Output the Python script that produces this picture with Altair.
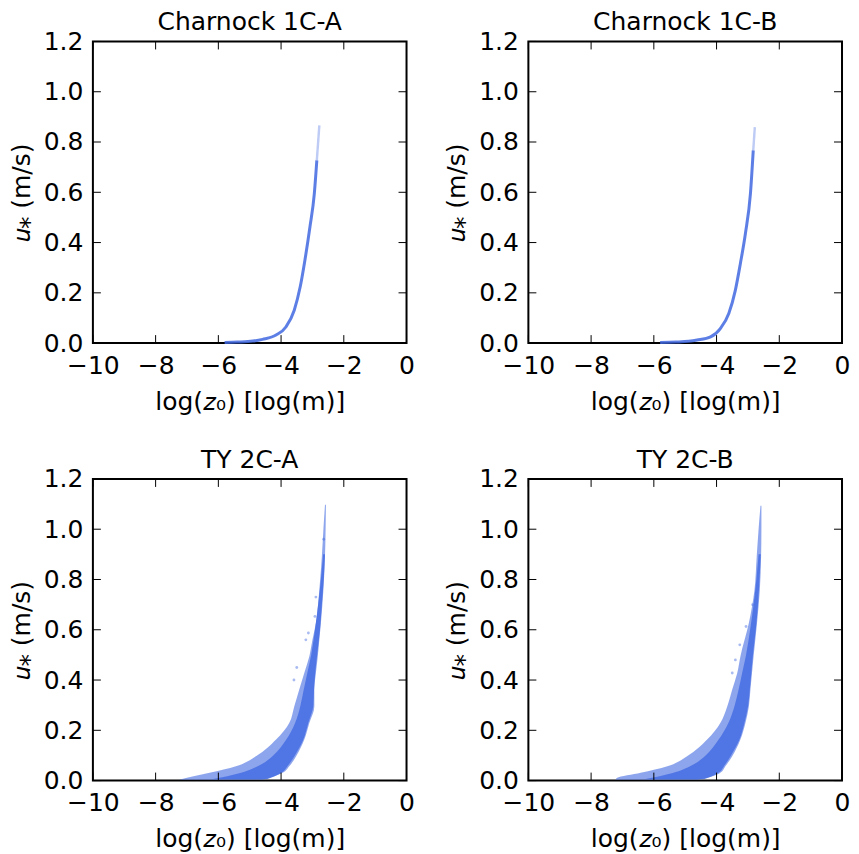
import altair as alt
import pandas as pd

FONT = "DejaVu Sans"
BLUE = "#4169E1"
W, H = 314, 302
TL = 8
FS = 25

x_ticks = [-10, -8, -6, -4, -2, 0]
y_ticks = [0.0, 0.2, 0.4, 0.6, 0.8, 1.0, 1.2]

titles = ["Charnock 1C-A", "Charnock 1C-B", "TY 2C-A", "TY 2C-B"]

# Charnock curves (log z0, u*)
chA_x = [-5.80, -5.40, -4.90, -4.59, -4.16, -3.84, -3.58, -3.39, -3.24, -3.08, -2.94, -2.86, -2.78]
chA_u = [0.002, 0.004, 0.008, 0.015, 0.032, 0.065, 0.131, 0.224, 0.330, 0.462, 0.595, 0.727, 0.866]
chB_x = [-5.80, -5.30, -4.89, -4.62, -4.19, -3.88, -3.61, -3.40, -3.24, -3.08, -2.92, -2.83, -2.78]
chB_u = [0.002, 0.004, 0.007, 0.012, 0.025, 0.058, 0.118, 0.211, 0.317, 0.436, 0.595, 0.767, 0.859]

# TY clouds: outer envelope and dense core (u*, left log z0, right log z0)
tyA_u = [0.003, 0.011, 0.031, 0.057, 0.097, 0.163, 0.229, 0.295, 0.362, 0.428, 0.494, 0.560, 0.627, 0.759, 0.891, 1.000, 1.097]
tyA_lo = [-7.25, -7.00, -6.28, -5.44, -4.80, -4.16, -3.74, -3.58, -3.42, -3.26, -3.10, -3.00, -2.89, -2.78, -2.70, -2.65, -2.60]
tyA_hi = [-4.60, -4.37, -3.95, -3.74, -3.52, -3.26, -3.10, -2.94, -2.94, -2.89, -2.83, -2.78, -2.73, -2.65, -2.60, -2.58, -2.57]
tyA_cu = [0.005, 0.030, 0.060, 0.100, 0.160, 0.230, 0.300, 0.360, 0.430, 0.500, 0.600, 0.700, 0.800, 0.900]
tyA_clo = [-6.20, -5.30, -4.70, -4.25, -3.85, -3.55, -3.38, -3.28, -3.16, -3.04, -2.92, -2.82, -2.73, -2.66]
tyA_chi = [-4.45, -4.00, -3.78, -3.56, -3.30, -3.13, -2.97, -2.95, -2.91, -2.85, -2.76, -2.70, -2.64, -2.60]
tyA_px = [-3.50, -3.59, -3.13, -2.92, -2.89, -3.21, -2.64]
tyA_pu = [0.450, 0.400, 0.587, 0.653, 0.730, 0.560, 0.960]

tyB_u = [0.003, 0.011, 0.031, 0.057, 0.097, 0.163, 0.229, 0.295, 0.362, 0.428, 0.494, 0.627, 0.759, 0.891, 1.000, 1.093]
tyB_lo = [-7.22, -7.17, -6.42, -5.57, -4.94, -4.30, -3.88, -3.66, -3.50, -3.34, -3.24, -2.97, -2.79, -2.72, -2.66, -2.60]
tyB_hi = [-4.60, -4.30, -3.88, -3.72, -3.50, -3.24, -3.08, -2.97, -2.92, -2.87, -2.82, -2.71, -2.62, -2.58, -2.57, -2.57]
tyB_cu = [0.005, 0.030, 0.060, 0.100, 0.160, 0.230, 0.300, 0.360, 0.430, 0.500, 0.600, 0.700, 0.800, 0.900]
tyB_clo = [-6.30, -5.40, -4.80, -4.35, -3.95, -3.62, -3.42, -3.30, -3.18, -3.06, -2.93, -2.82, -2.73, -2.66]
tyB_chi = [-4.40, -3.95, -3.75, -3.54, -3.28, -3.11, -2.99, -2.94, -2.89, -2.84, -2.75, -2.68, -2.63, -2.59]
tyB_px = [-3.40, -3.50, -3.26, -3.06, -2.85]
tyB_pu = [0.480, 0.428, 0.540, 0.613, 0.700]

xscale = alt.Scale(domain=[-10, 0], nice=False, zero=False)
yscale = alt.Scale(domain=[0, 1.2], nice=False, zero=False)

xaxis = alt.Axis(title="log(𝑧₀) [log(m)]", values=x_ticks, format="d", grid=False,
                 ticks=False, tickSize=0, domain=False, labelPadding=10,
                 titlePadding=11, labelFlush=False)
yaxis = alt.Axis(title="𝑢⁎ (m/s)", values=y_ticks, format=".1f", grid=False,
                 ticks=False, tickSize=0, domain=False, labelPadding=10,
                 titlePadding=9, labelFlush=False)


def X(f):
    return alt.X(f, type="quantitative", scale=xscale, axis=xaxis)


def Y(f):
    return alt.Y(f, type="quantitative", scale=yscale, axis=yaxis)


def tick_layers():
    xt = pd.DataFrame({"x": x_ticks})
    yt = pd.DataFrame({"u": y_ticks})
    r = dict(color="black", strokeWidth=1)
    return [
        alt.Chart(xt).mark_rule(**r).encode(x=X("x"), y=alt.value(H), y2=alt.value(H - TL)),
        alt.Chart(xt).mark_rule(**r).encode(x=X("x"), y=alt.value(0), y2=alt.value(TL)),
        alt.Chart(yt).mark_rule(**r).encode(y=Y("u"), x=alt.value(0), x2=alt.value(TL)),
        alt.Chart(yt).mark_rule(**r).encode(y=Y("u"), x=alt.value(W), x2=alt.value(W - TL)),
    ]


def ptitle(t):
    return alt.TitleParams(t, frame="group", anchor="middle", offset=-6)


def charnock(title, xs, us):
    df = pd.DataFrame({"x": xs, "u": us})
    base = alt.Chart(df)
    main = base.transform_filter("datum.u <= 0.78").mark_line(
        color=BLUE, strokeWidth=3, opacity=0.85, interpolate="monotone"
    ).encode(x=X("x"), y=Y("u"))
    tip = base.transform_filter("datum.u >= 0.72").mark_line(
        color=BLUE, strokeWidth=2.4, opacity=0.35, interpolate="monotone"
    ).encode(x=X("x"), y=Y("u"))
    return alt.layer(main, tip, *tick_layers()).properties(
        width=W, height=H, title=ptitle(title))


def ty(title, u, lo, hi, cu, clo, chi, px, pu):
    outer = alt.Chart(pd.DataFrame({"u": u, "lo": lo, "hi": hi})).mark_area(
        orient="horizontal", color=BLUE, opacity=0.6, interpolate="monotone"
    ).encode(y=Y("u"), x=X("lo"), x2="hi")
    core = alt.Chart(pd.DataFrame({"u": cu, "lo": clo, "hi": chi})).mark_area(
        orient="horizontal", color=BLUE, opacity=0.8, interpolate="monotone"
    ).encode(y=Y("u"), x=X("lo"), x2="hi")
    pts = alt.Chart(pd.DataFrame({"x": px, "u": pu})).mark_circle(
        color=BLUE, size=8, opacity=0.45
    ).encode(x=X("x"), y=Y("u"))
    return alt.layer(outer, core, pts, *tick_layers()).properties(
        width=W, height=H, title=ptitle(title))


p1 = charnock(titles[0], chA_x, chA_u)
p2 = charnock(titles[1], chB_x, chB_u)
p3 = ty(titles[2], tyA_u, tyA_lo, tyA_hi, tyA_cu, tyA_clo, tyA_chi, tyA_px, tyA_pu)
p4 = ty(titles[3], tyB_u, tyB_lo, tyB_hi, tyB_cu, tyB_clo, tyB_chi, tyB_px, tyB_pu)

row1 = alt.hconcat(p1, p2, spacing=28)
row2 = alt.hconcat(p3, p4, spacing=28)

chart = alt.vconcat(row1, row2, spacing=32).properties(
    padding={"left": 0, "top": 1, "right": 0, "bottom": 0}
).configure(font=FONT).configure_view(
    stroke="black", strokeWidth=2
).configure_axis(
    labelFont=FONT, titleFont=FONT, labelFontSize=FS, titleFontSize=FS,
    labelColor="black", titleColor="black", titleFontWeight="normal"
).configure_title(
    font=FONT, fontSize=FS, fontWeight="normal", color="black"
)

chart.save("out.html", embed_options={"renderer": "svg", "actions": False})
